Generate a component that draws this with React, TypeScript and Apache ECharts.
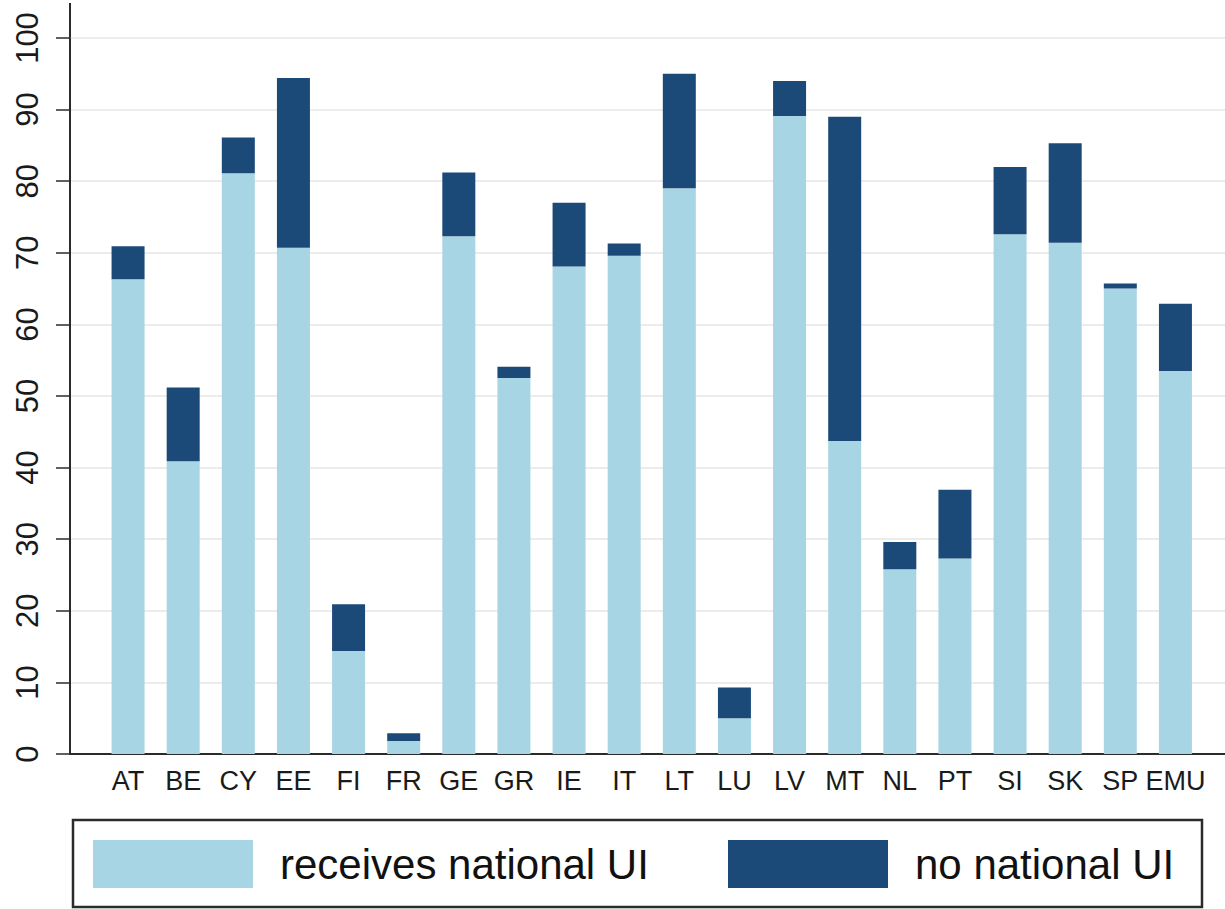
import React, { useEffect, useRef } from "react";
import * as echarts from "echarts";

const countries = ["AT", "BE", "CY", "EE", "FI", "FR", "GE", "GR", "IE", "IT", "LT", "LU", "LV", "MT", "NL", "PT", "SI", "SK", "SP", "EMU"];
const receivesUI = [66.3, 40.9, 81.1, 70.7, 14.4, 1.8, 72.3, 52.5, 68.1, 69.6, 79.0, 5.0, 89.1, 43.7, 25.8, 27.3, 72.6, 71.4, 65.0, 53.5];
const noUI = [4.6, 10.3, 5.0, 23.7, 6.5, 1.1, 8.9, 1.6, 8.9, 1.7, 16.0, 4.3, 4.9, 45.3, 3.8, 9.6, 9.4, 13.9, 0.7, 9.4];
const seriesNames = ["receives national UI", "no national UI"];
const yTicks = [0, 10, 20, 30, 40, 50, 60, 70, 80, 90, 100];

const LIGHT = "#a8d5e3";
const DARK = "#1b4a78";
const FONT = "'Liberation Sans', Arial, Helvetica, sans-serif";

export default function App() {
  const ref = useRef<HTMLDivElement>(null);
  useEffect(() => {
    document.body.style.margin = "0";
    const chart = echarts.init(ref.current!, null, { renderer: "svg" });
    const top = 38;
    const bottom = 155;
    chart.setOption({
      animation: false,
      backgroundColor: "#ffffff",
      textStyle: { fontFamily: FONT },
      grid: [
        { left: 70, right: 0, top, bottom, containLabel: false },
        { left: 100.5, right: 22, top, bottom, containLabel: false },
      ],
      xAxis: [
        {
          gridIndex: 0,
          type: "value",
          min: 0,
          max: 1,
          axisLine: { show: true, lineStyle: { color: "#2b2b2b", width: 2 } },
          axisTick: { show: false },
          axisLabel: { show: false },
          splitLine: { show: false },
        },
        {
          gridIndex: 1,
          type: "category",
          data: countries,
          axisLine: { show: false },
          axisTick: { show: false },
          axisLabel: { color: "#1a1a1a", fontSize: 27, margin: 13, fontFamily: FONT, interval: 0 },
        },
      ],
      yAxis: [
        {
          gridIndex: 0,
          type: "value",
          min: yTicks[0],
          max: yTicks[yTicks.length - 1],
          interval: 10,
          axisLine: { show: true, lineStyle: { color: "#2b2b2b", width: 2 } },
          axisTick: { show: true, inside: false, length: 14, lineStyle: { color: "#2b2b2b", width: 1.5 } },
          axisLabel: { rotate: 90, fontSize: 31, color: "#1a1a1a", margin: 27, fontFamily: FONT },
          splitLine: { show: true, lineStyle: { color: "#ececec", width: 2 } },
        },
        {
          gridIndex: 1,
          type: "value",
          min: yTicks[0],
          max: yTicks[yTicks.length - 1],
          show: false,
        },
      ],
      legend: [
        {
          data: [seriesNames[0]],
          left: 93,
          top: 840,
          icon: "rect",
          itemWidth: 160,
          itemHeight: 48,
          padding: 0,
          textStyle: { fontSize: 42, color: "#111", fontFamily: FONT, padding: [0, 0, 0, 22] },
        },
        {
          data: [seriesNames[1]],
          left: 728,
          top: 840,
          icon: "rect",
          itemWidth: 160,
          itemHeight: 48,
          padding: 0,
          textStyle: { fontSize: 42, color: "#111", fontFamily: FONT, padding: [0, 0, 0, 22] },
        },
      ],
      graphic: [
        {
          type: "line",
          shape: { x1: 70, y1: 3, x2: 70, y2: top },
          style: { stroke: "#2b2b2b", lineWidth: 2 },
        },
        {
          type: "rect",
          shape: { x: 73, y: 820, width: 1129, height: 87 },
          style: { fill: "none", stroke: "#2b2b2b", lineWidth: 2.5 },
          z: -1,
        },
      ],
      series: [
        {
          name: seriesNames[0],
          type: "bar",
          stack: "total",
          xAxisIndex: 1,
          yAxisIndex: 1,
          barWidth: 33,
          data: receivesUI,
          itemStyle: { color: LIGHT },
        },
        {
          name: seriesNames[1],
          type: "bar",
          stack: "total",
          xAxisIndex: 1,
          yAxisIndex: 1,
          barWidth: 33,
          data: noUI,
          itemStyle: { color: DARK },
        },
      ],
    });
    return () => chart.dispose();
  }, []);
  return <div ref={ref} style={{ width: 1225, height: 909 }} />;
}
